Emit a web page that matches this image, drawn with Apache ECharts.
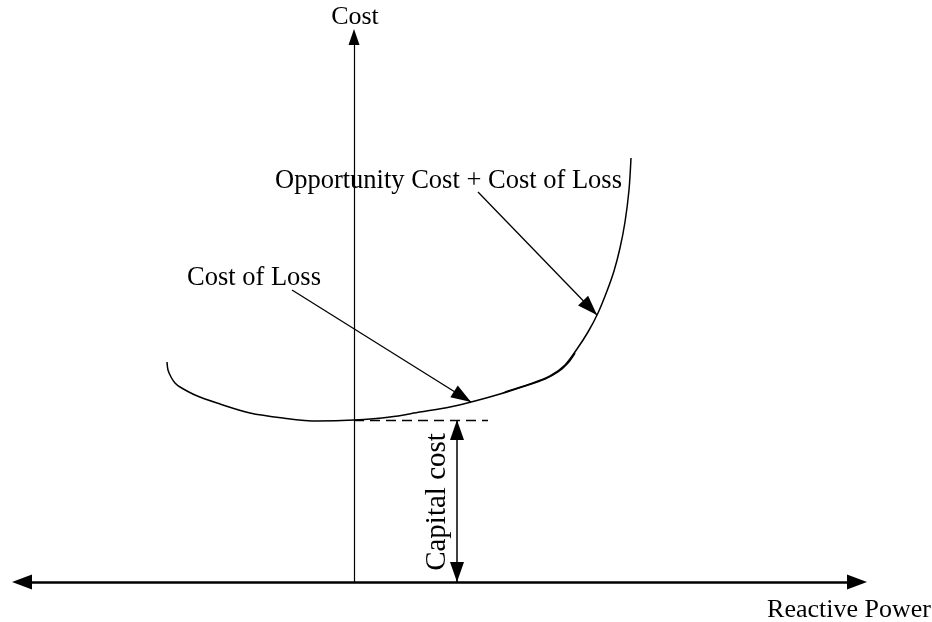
<!doctype html>
<html lang="en">
<head>
    <meta charset="utf-8">
    <title>Cost vs Reactive Power</title>
    <script src="https://cdn.jsdelivr.net/npm/echarts@6.0.0/dist/echarts.min.js"></script>
    <style>
        html, body { margin: 0; padding: 0; background: #fff; }
        #main { width: 932px; height: 622px; }
    </style>
</head>
<body>
    <div id="main"></div>
    <script type="text/javascript">
    // reactive power (x) and cost (y), origin where the two axes cross
    var lossQ    = [-187, -186, -183, -179, -174, -159, -137, -104, -71, -37, 0, 36, 66, 96, 121, 146, 171, 191, 204, 214, 221];
    var lossCost = [220, 212, 205, 199, 195, 187, 179, 169, 164, 161, 162, 165, 170, 175, 181, 188, 196, 203, 210, 219, 229];

    var totalQ    = [151, 176, 196, 211, 223, 234, 244, 253, 260, 266, 271, 275, 277];
    var totalCost = [190, 198, 206, 217, 233, 250, 269, 291, 311, 334, 360, 392, 424];

    // annotation pointers: [from, to]
    var lossPointer  = [[-62, 292], [117, 180]];
    var totalPointer = [[124, 390], [243, 267]];
    var capitalLevel = [[0, 162], [134, 162]];
    var capitalSpan  = [[103, 162], [103, 0]];

    var labels = {
        yName: 'Cost',
        xName: 'Reactive Power',
        loss: 'Cost of Loss',
        total: 'Opportunity Cost + Cost of Loss',
        capital: 'Capital cost'
    };

    function pairs(xs, ys) {
        return xs.map(function (x, i) { return [x, ys[i]]; });
    }

    // square box, triangle tip at the centre, body trailing behind
    var head = 'path://M-20,0 M20,0 M0,20 L7,40 L-7,40 Z';
    var font = '"Liberation Serif", "Times New Roman", serif';

    var chart = echarts.init(document.getElementById('main'));

    var option = {
        animation: false,
        backgroundColor: '#fff',
        grid: { left: 22, right: 75, top: 37, bottom: 40 },
        xAxis: {
            type: 'value',
            min: -332,
            max: 503,
            axisLine: {
                onZero: true,
                symbol: ['triangle', 'triangle'],
                symbolSize: [15, 20],
                lineStyle: { color: '#000', width: 2.5 }
            },
            axisTick: { show: false },
            axisLabel: { show: false },
            splitLine: { show: false }
        },
        yAxis: {
            type: 'value',
            min: 0,
            max: 545,
            axisLine: {
                onZero: true,
                symbol: ['none', 'triangle'],
                symbolSize: [11, 16],
                lineStyle: { color: '#000', width: 1.2 }
            },
            axisTick: { show: false },
            axisLabel: { show: false },
            splitLine: { show: false }
        },
        graphic: [
            { type: 'text', x: 355, y: 17, style: { text: labels.yName, font: '26px ' + font, fill: '#000', align: 'center', verticalAlign: 'middle' } },
            { type: 'text', x: 931, y: 610, style: { text: labels.xName, font: '26px ' + font, fill: '#000', align: 'right', verticalAlign: 'middle' } },
            { type: 'text', x: 187, y: 278, style: { text: labels.loss, font: '26.5px ' + font, fill: '#000', align: 'left', verticalAlign: 'middle' } },
            { type: 'text', x: 275, y: 181, style: { text: labels.total, font: '26.5px ' + font, fill: '#000', align: 'left', verticalAlign: 'middle' } },
            { type: 'text', x: 437, y: 502, rotation: Math.PI / 2, style: { text: labels.capital, font: '29px ' + font, fill: '#000', align: 'center', verticalAlign: 'middle' } }
        ],
        series: [
            {
                name: 'Cost of Loss',
                type: 'line',
                data: pairs(lossQ, lossCost),
                smooth: 0.3,
                showSymbol: false,
                lineStyle: { color: '#000', width: 1.5 }
            },
            {
                name: 'Opportunity Cost + Cost of Loss',
                type: 'line',
                data: pairs(totalQ, totalCost),
                smooth: 0.3,
                showSymbol: false,
                lineStyle: { color: '#000', width: 1.5 }
            },
            {
                type: 'lines',
                coordinateSystem: 'cartesian2d',
                symbol: ['none', head],
                symbolSize: 40,
                lineStyle: { color: '#000', width: 1.3, opacity: 1 },
                itemStyle: { color: '#000' },
                data: [{ coords: lossPointer }, { coords: totalPointer }]
            },
            {
                type: 'lines',
                coordinateSystem: 'cartesian2d',
                symbol: ['none', 'none'],
                lineStyle: { color: '#000', width: 1.3, type: [10, 6], opacity: 1 },
                data: [{ coords: capitalLevel }]
            },
            {
                type: 'lines',
                coordinateSystem: 'cartesian2d',
                symbol: [head, head],
                symbolSize: 40,
                lineStyle: { color: '#000', width: 1.5, opacity: 1 },
                itemStyle: { color: '#000' },
                data: [{ coords: capitalSpan }]
            }
        ]
    };

    chart.setOption(option);
    </script>
</body>
</html>
